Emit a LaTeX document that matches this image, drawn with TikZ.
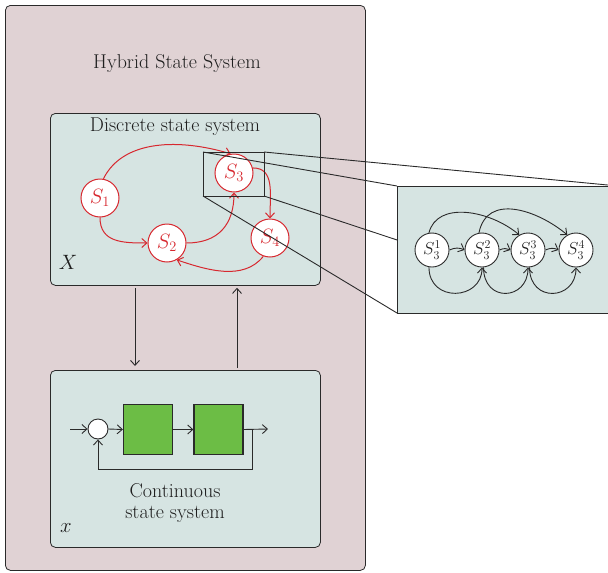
\documentclass[tikz,border=0pt]{standalone}
\usepackage{fontspec}
\usetikzlibrary{arrows.meta}
\definecolor{hybridbg}{HTML}{E0D2D4}
\definecolor{subbg}{HTML}{D6E4E2}
\definecolor{stred}{HTML}{D7282F}
\definecolor{blockgreen}{HTML}{6CBD45}
\definecolor{ink}{HTML}{2A2A2A}
\definecolor{textink}{HTML}{1E1E1E}
\tikzset{
  panel/.style={draw=ink, line width=0.8pt, rounded corners=5pt},
  redstate/.style={circle, draw=stred, fill=white, line width=1pt, minimum size=38pt, inner sep=0pt, text=stred, font=\fontsize{20}{20}\selectfont},
  substate/.style={circle, draw=ink, fill=white, line width=0.9pt, minimum size=34pt, inner sep=0pt, text=textink, font=\fontsize{18}{18}\selectfont},
  tip/.style={-{Straight Barb[length=5pt,width=9pt]}},
  redarc/.style={draw=stred, line width=1pt, tip},
  blackarc/.style={draw=ink, line width=0.9pt, tip},
  block/.style={draw=ink, fill=blockgreen, line width=1.3pt, minimum width=49pt, minimum height=50pt, inner sep=0pt},
  label/.style={text=textink, font=\fontsize{20}{24}\selectfont, align=center},
}
\begin{document}
\begin{tikzpicture}[x=1pt,y=-1pt]
\useasboundingbox (0,0) rectangle (608,573);
\clip (0,0) rectangle (608,573);

% outer hybrid system panel
\node[panel, fill=hybridbg, minimum width=360pt, minimum height=565pt, anchor=north west] (hyb) at (5,5) {};
\node[label] (hybt) at (177,64) {Hybrid State System};

% discrete and continuous sub-panels
\node[panel, fill=subbg, minimum width=270pt, minimum height=172pt, anchor=north west] (dis) at (50,113) {};
\node[panel, fill=subbg, minimum width=270pt, minimum height=177pt, anchor=north west] (con) at (50,370) {};
\node[label] (dist) at (175,127) {Discrete state system};
\node[label] (cvar) at (68,262) {$X$};

% discrete states
\node[redstate] (s1) at (100,198) {$S_1$};
\node[redstate] (s2) at (167,243) {$S_2$};
\node[redstate] (s3) at (234,173) {$S_3$};
\node[redstate] (s4) at (270,238) {$S_4$};

\draw[redarc] (s1.80) .. controls +(20,-40) and +(-50,-15) .. (s3.100);
\draw[redarc] (s1.south) .. controls +(0,25) and +(-25,0) .. (s2.west);
\draw[redarc] (s2.east) .. controls +(32,0) and +(0,32) .. (s3.south);
\draw[redarc] (s3.15) .. controls +(22,0) and +(0,-25) .. (s4.north);
\draw[redarc] (s4.250) .. controls +(-20,25) and +(30,10) .. (s2.300);

% magnifier frame around S3 and its projection lines
\coordinate (ztl) at (203,152);
\coordinate (ztr) at (264,152);
\coordinate (zbr) at (264,196);
\coordinate (zbl) at (203,196);
\coordinate (btl) at (397,186);
\coordinate (btr) at (618,186);
\coordinate (bbr) at (618,313);
\coordinate (bbl) at (397,313);
\draw[ink, line width=0.9pt] (ztl) rectangle (zbr);
\draw[ink, line width=0.9pt] (ztl) -- (btl);
\draw[ink, line width=0.9pt] (ztr) -- (btr);
\draw[ink, line width=0.9pt] (zbl) -- (bbl);
\draw[ink, line width=0.9pt] (zbr) -- (bbr);
\draw[ink, line width=0.9pt, fill=subbg] (btl) rectangle (bbr);

% sub-states of S3
\node[substate] (a1) at (432,250) {$S_3^1$};
\node[substate] (a2) at (482,250) {$S_3^2$};
\node[substate] (a3) at (528,250) {$S_3^3$};
\node[substate] (a4) at (576,250) {$S_3^4$};

\draw[blackarc] (a1.100) .. controls +(8,-32) and +(-30,-25) .. (a3.120);
\draw[blackarc] (a2.100) .. controls +(8,-40) and +(-30,-25) .. (a4.120);
\draw[blackarc] (a1.260) .. controls +(0,36) and +(0,33) .. (a2.270);
\draw[blackarc] (a2.275) .. controls +(0,36) and +(0,33) .. (a3.270);
\draw[blackarc] (a3.275) .. controls +(0,36) and +(0,33) .. (a4.270);
\draw[blackarc] (a1.east) to[bend left=25] (a2.west);
\draw[blackarc] (a2.east) to[bend left=25] (a3.west);
\draw[blackarc] (a3.east) to[bend left=25] (a4.west);

% links between the discrete and continuous panels
\coordinate (dlx) at (135,0);
\coordinate (ulx) at (237,0);
\draw[blackarc, shorten <=2pt, shorten >=4pt] (dis.south -| dlx) -- (con.north -| dlx);
\draw[blackarc, shorten <=2pt, shorten >=2pt] (con.north -| ulx) -- (dis.south -| ulx);

% continuous loop: summing junction and two blocks
\coordinate (inp) at (70,429);
\node[circle, draw=ink, fill=white, line width=0.9pt, minimum size=20pt, inner sep=0pt] (sum) at (98,429) {};
\node[block] (b1) at (148,429.5) {};
\node[block] (b2) at (218.5,429.5) {};
\coordinate (tap) at (252,429);
\coordinate (outp) at (268,429);
\coordinate (fb) at (252,469);
\draw[blackarc] (inp) -- (sum.west);
\draw[blackarc] (sum.east) -- (b1.west);
\draw[blackarc] (b1.east) -- (b2.west);
\draw[blackarc] (b2.east) -- (outp);
\draw[blackarc] (tap) -- (fb) -| (sum.south);

\node[label, font=\fontsize{20}{21}\selectfont] (cont) at (175,503) {Continuous\\state system};
\node[label] (xvar) at (66,528) {$x$};
\end{tikzpicture}
\end{document}
